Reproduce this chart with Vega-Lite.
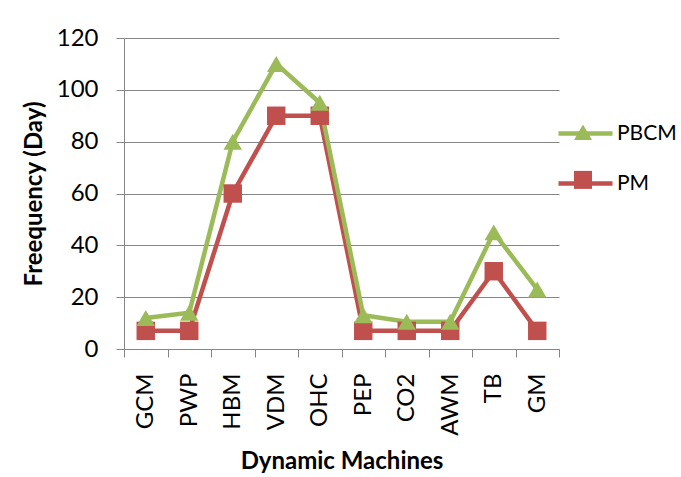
{
  "$schema": "https://vega.github.io/schema/vega-lite/v6.json",
  "width": 435,
  "height": 311,
  "autosize": {"type": "none"},
  "padding": {"left": 124, "top": 38, "right": 122, "bottom": 128},
  "background": "white",
  "data": {
    "values": [
      {"machine": "GCM", "idx": 0, "series": "PM", "freq": 7},
      {"machine": "PWP", "idx": 1, "series": "PM", "freq": 7},
      {"machine": "HBM", "idx": 2, "series": "PM", "freq": 60},
      {"machine": "VDM", "idx": 3, "series": "PM", "freq": 90},
      {"machine": "OHC", "idx": 4, "series": "PM", "freq": 90},
      {"machine": "PEP", "idx": 5, "series": "PM", "freq": 7},
      {"machine": "CO2", "idx": 6, "series": "PM", "freq": 7},
      {"machine": "AWM", "idx": 7, "series": "PM", "freq": 7},
      {"machine": "TB", "idx": 8, "series": "PM", "freq": 30},
      {"machine": "GM", "idx": 9, "series": "PM", "freq": 7},
      {"machine": "GCM", "idx": 0, "series": "PBCM", "freq": 12},
      {"machine": "PWP", "idx": 1, "series": "PBCM", "freq": 14},
      {"machine": "HBM", "idx": 2, "series": "PBCM", "freq": 80},
      {"machine": "VDM", "idx": 3, "series": "PBCM", "freq": 110},
      {"machine": "OHC", "idx": 4, "series": "PBCM", "freq": 95},
      {"machine": "PEP", "idx": 5, "series": "PBCM", "freq": 13},
      {"machine": "CO2", "idx": 6, "series": "PBCM", "freq": 10.5},
      {"machine": "AWM", "idx": 7, "series": "PBCM", "freq": 10.5},
      {"machine": "TB", "idx": 8, "series": "PBCM", "freq": 45},
      {"machine": "GM", "idx": 9, "series": "PBCM", "freq": 23}
    ]
  },
  "config": {
    "view": {"stroke": null},
    "font": "Lato",
    "axis": {
      "domainColor": "#868686",
      "tickColor": "#868686",
      "gridColor": "#868686",
      "labelColor": "#000000",
      "titleColor": "#000000",
      "labelFont": "Lato",
      "titleFont": "Lato",
      "labelFontSize": 24,
      "titleFontSize": 24,
      "titleFontWeight": "bold",
      "tickSize": 8
    }
  },
  "encoding": {
    "x": {
      "field": "machine",
      "type": "nominal",
      "sort": null,
      "scale": {"type": "band", "paddingInner": 0, "paddingOuter": 0},
      "title": "Dynamic Machines",
      "axis": {
        "labelAngle": -90,
        "labelAlign": "right",
        "labelBaseline": "middle",
        "labelPadding": 16,
        "tickBand": "extent",
        "grid": false,
        "titlePadding": 14
      }
    },
    "y": {
      "field": "freq",
      "type": "quantitative",
      "scale": {"domain": [0, 120]},
      "title": "Freequency (Day)",
      "axis": {
        "values": [0, 20, 40, 60, 80, 100, 120],
        "grid": true,
        "labelPadding": 18,
        "titlePadding": 10
      }
    }
  },
  "layer": [
    {
      "mark": {"type": "line", "strokeWidth": 4.5},
      "encoding": {
        "order": {"field": "idx", "type": "quantitative"},
        "stroke": {
          "field": "series",
          "type": "nominal",
          "scale": {"domain": ["PBCM", "PM"], "range": ["#9BBB59", "#C0504D"]},
          "legend": {
            "orient": "none",
            "legendX": 450,
            "legendY": 84,
            "title": null,
            "symbolType": "M-3,0H3",
            "symbolSize": 324,
            "symbolStrokeWidth": 4.5,
            "labelFont": "Lato",
            "labelFontSize": 21,
            "labelColor": "#000000",
            "labelOffset": 20,
            "rowPadding": 28
          }
        }
      }
    },
    {
      "mark": {"type": "point", "filled": true, "opacity": 1, "size": 340},
      "encoding": {
        "fill": {
          "field": "series",
          "type": "nominal",
          "scale": {"range": ["#9BBB59", "#C0504D"]},
          "legend": {
            "orient": "none",
            "legendX": 450,
            "legendY": 85.3,
            "title": null,
            "symbolSize": 324,
            "symbolStrokeWidth": 0,
            "labelExpr": "''",
            "labelOffset": 0,
            "rowPadding": 30.6
          }
        },
        "shape": {
          "field": "series",
          "type": "nominal",
          "scale": {"range": ["triangle-up", "square"]},
          "legend": {
            "orient": "none",
            "legendX": 450,
            "legendY": 85.3,
            "title": null,
            "symbolSize": 324,
            "symbolStrokeWidth": 0,
            "labelExpr": "''",
            "labelOffset": 0,
            "rowPadding": 30.6
          }
        }
      }
    }
  ]
}
